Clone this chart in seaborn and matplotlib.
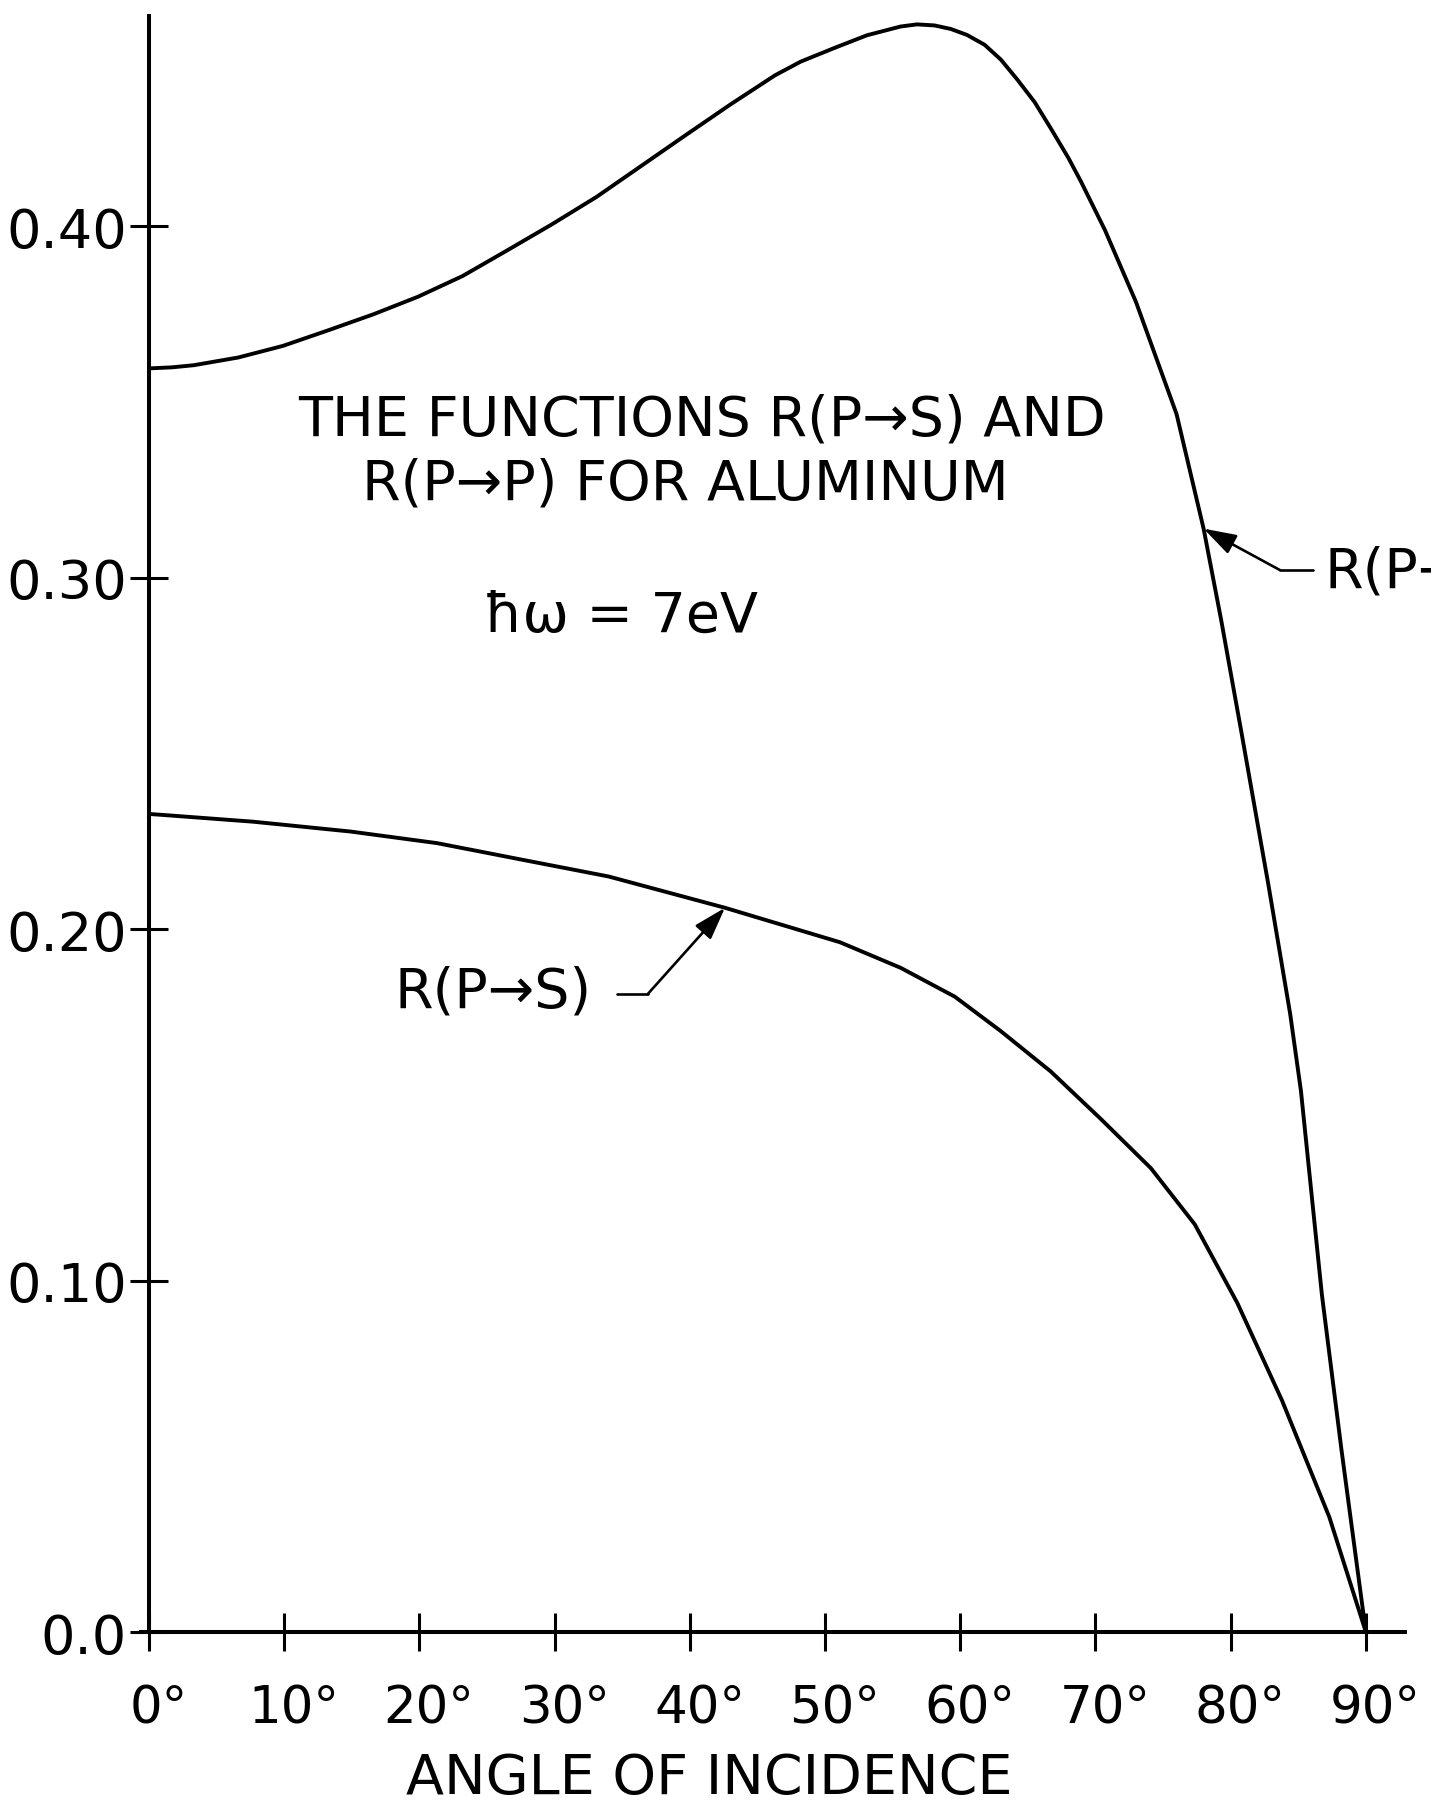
import matplotlib
matplotlib.use("Agg")
import matplotlib.pyplot as plt
import seaborn as sns
import pandas as pd
from matplotlib.transforms import ScaledTranslation

# ---------------- data ----------------
pp_angle = [0, 1.7, 3.3, 6.6, 9.9, 13.3, 16.6, 19.9, 23.2, 26.5, 29.8, 33.1,
            36.4, 39.7, 43.0, 46.3, 48.2, 50.7, 53.1, 55.6, 56.8, 58.1, 59.3,
            60.5, 61.8, 63.0, 64.2, 65.5, 66.7, 68.0, 68.9, 70.7, 73.0, 76.0,
            78.0, 79.3, 80.8, 82.8, 84.4, 85.2, 86.75, 88.2, 90.0]
pp_value = [0.3596, 0.3599, 0.3605, 0.3627, 0.3660, 0.3705, 0.3750, 0.3800,
            0.3859, 0.3932, 0.4006, 0.4084, 0.4172, 0.4260, 0.4347, 0.4430,
            0.4469, 0.4508, 0.4544, 0.4569, 0.4575, 0.4572, 0.4562, 0.4545,
            0.4517, 0.4475, 0.4419, 0.4354, 0.4279, 0.4195, 0.4130, 0.3990,
            0.3785, 0.3466, 0.3140, 0.2880, 0.2560, 0.2125, 0.1760, 0.1540,
            0.0960, 0.0518, 0.0]

ps_angle = [0, 1.1, 7.7, 14.9, 21.3, 27.7, 34.0, 42.6, 51.1, 55.6, 59.6, 63.0,
            66.7, 70.4, 74.1, 77.35, 80.5, 83.8, 87.3, 90.0]
ps_value = [0.2328, 0.2325, 0.2306, 0.2278, 0.2245, 0.2197, 0.2150, 0.2061,
            0.1963, 0.1890, 0.1808, 0.1710, 0.1595, 0.1460, 0.1320, 0.1160,
            0.0936, 0.0659, 0.0327, 0.0]

x_ticks = [0, 10, 20, 30, 40, 50, 60, 70, 80, 90]
x_tick_labels = ["0°", "10°", "20°", "30°", "40°", "50°", "60°", "70°", "80°", "90°"]
y_ticks = [0.0, 0.10, 0.20, 0.30, 0.40]
y_tick_labels = ["0.0", "0.10", "0.20", "0.30", "0.40"]

title_line1 = "THE FUNCTIONS R(P→S) AND"
title_line2 = "R(P→P) FOR ALUMINUM"
energy_text = "ħω = 7eV"
label_ps = "R(P→S)"
label_pp = "R(P→P)"
x_label = "ANGLE OF INCIDENCE"

# ---------------- style ----------------
sns.set_theme(style="white")
plt.rcParams["font.family"] = ["DejaVu Sans"]
plt.rcParams["text.color"] = "black"
plt.rcParams["lines.solid_joinstyle"] = "round"

fig = plt.figure(figsize=(14.31, 18.08), dpi=100)
fig.patch.set_facecolor("white")
ax = fig.add_axes([0.09846, 0.09679, 0.8834, 0.89403])
ax.set_facecolor("white")

df_pp = pd.DataFrame({"angle": pp_angle, "R": pp_value})
df_ps = pd.DataFrame({"angle": ps_angle, "R": ps_value})
sns.lineplot(data=df_pp, x="angle", y="R", sort=False, estimator=None,
             color="black", linewidth=2.8, ax=ax)
sns.lineplot(data=df_ps, x="angle", y="R", sort=False, estimator=None,
             color="black", linewidth=2.8, ax=ax)

ax.set_xlim(-0.6, 92.9)
ax.set_ylim(0, 0.46)
ax.set_xlabel("")
ax.set_ylabel("")

for s in ["top", "right"]:
    ax.spines[s].set_visible(False)
ax.spines["left"].set_position(("data", 0))
for s in ["left", "bottom"]:
    ax.spines[s].set_linewidth(2.9)
    ax.spines[s].set_color("black")

ax.set_xticks(x_ticks)
ax.set_xticklabels(x_tick_labels)
ax.set_yticks(y_ticks)
ax.set_yticklabels(y_tick_labels)
ax.tick_params(axis="both", which="major", direction="inout", length=28,
               width=2.2, color="black", left=True, bottom=True,
               labelcolor="black")
ax.tick_params(axis="x", pad=23, labelsize=37)
ax.tick_params(axis="y", pad=2, labelsize=39)
shift = ScaledTranslation(7 / 72, 0, fig.dpi_scale_trans)
for lab in ax.get_xticklabels():
    lab.set_transform(lab.get_transform() + shift)

# ---------------- annotations ----------------
fs = 40
fig.text(0.4906, 0.7594, title_line1, ha="center", va="baseline", fontsize=fs)
fig.text(0.4787, 0.7240, title_line2, ha="center", va="baseline", fontsize=fs)
fig.text(0.434, 0.6504, energy_text, ha="center", va="baseline", fontsize=fs)
fig.text(0.3449, 0.4425, label_ps, ha="center", va="baseline", fontsize=fs)
fig.text(0.9259, 0.6748, label_pp, ha="left", va="baseline", fontsize=fs)
fig.text(0.4955, 0.0075, x_label, ha="center", va="baseline", fontsize=40)

arrow_kw = dict(arrowstyle="-|>,head_length=1.0,head_width=0.32", lw=1.9,
                color="black", shrinkA=0, shrinkB=0, mutation_scale=20)
# R(P->S) leader
ax.plot([34.6, 36.9], [0.1816, 0.1816], color="black", lw=1.9)
ax.annotate("", xy=(42.6, 0.2061), xytext=(36.9, 0.1816), arrowprops=arrow_kw)
# R(P->P) leader
ax.plot([83.65, 86.1], [0.3022, 0.3022], color="black", lw=1.9, clip_on=False)
ax.annotate("", xy=(78.0, 0.3140), xytext=(83.65, 0.3022), arrowprops=arrow_kw)

fig.savefig("out.png", dpi=100, facecolor="white")
